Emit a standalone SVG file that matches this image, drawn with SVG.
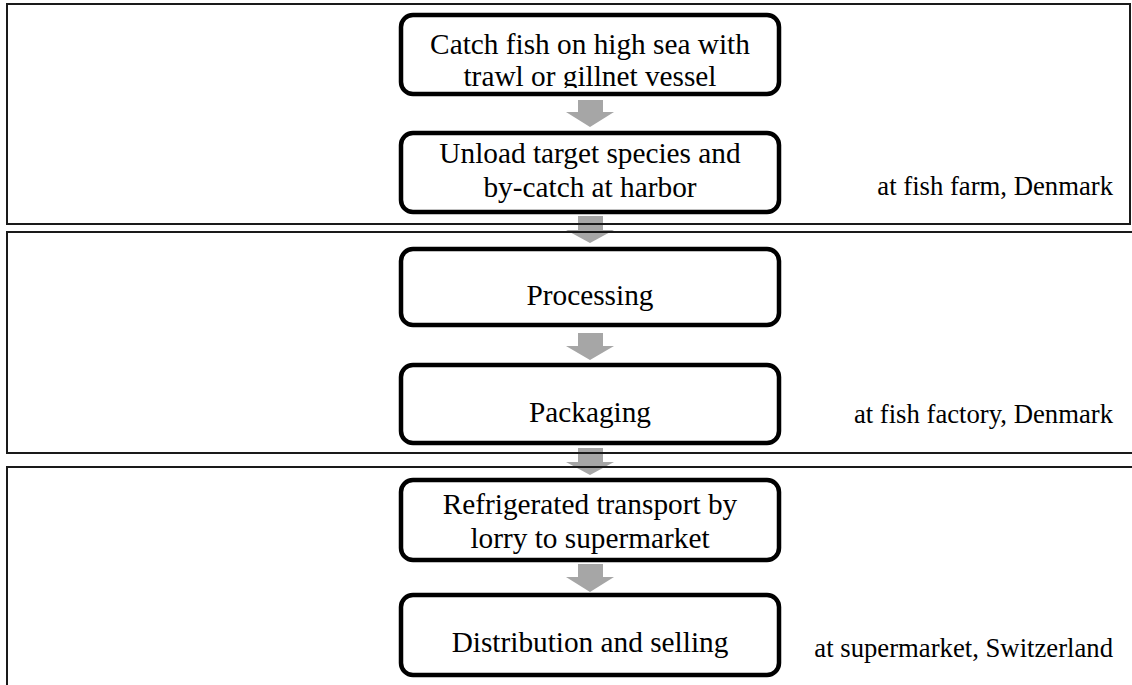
<svg xmlns="http://www.w3.org/2000/svg" width="1132" height="685" viewBox="0 0 1132 685">
<style>
.frame{fill:none;stroke:#1a1a1a;stroke-width:2}
.node{fill:#fff;stroke:#000;stroke-width:4.5}
.t{font-family:"Liberation Serif","Times New Roman",serif;font-size:29.3px;fill:#000;text-anchor:middle}
.lbl{font-family:"Liberation Serif","Times New Roman",serif;font-size:26.7px;fill:#000;text-anchor:end}
.arrow{fill:#a6a6a6}
</style>
<defs>
<clipPath id="clip1"><rect x="401" y="15" width="378" height="73"/></clipPath>
</defs>
<rect width="1132" height="685" fill="#fff"/>
<g id="nodes">
<g id="n1">
<rect class="node" x="401" y="15" width="378" height="79" rx="12"/>
<g clip-path="url(#clip1)">
<text class="t" x="590" y="54">Catch fish on high sea with</text>
<text class="t" x="590" y="86">trawl or gillnet vessel</text>
</g>
</g>
<g id="n2">
<rect class="node" x="401" y="133" width="378" height="79" rx="12"/>
<text class="t" x="590" y="163">Unload target species and</text>
<text class="t" x="590" y="197">by-catch at harbor</text>
</g>
<g id="n3">
<rect class="node" x="401" y="249" width="378" height="76" rx="12"/>
<text class="t" x="590" y="305">Processing</text>
</g>
<g id="n4">
<rect class="node" x="401" y="365" width="378" height="78" rx="12"/>
<text class="t" x="590" y="422">Packaging</text>
</g>
<g id="n5">
<rect class="node" x="401" y="480" width="378" height="80" rx="12"/>
<text class="t" x="590" y="514">Refrigerated transport by</text>
<text class="t" x="590" y="548">lorry to supermarket</text>
</g>
<g id="n6">
<rect class="node" x="401" y="595" width="378" height="80" rx="12"/>
<text class="t" x="590" y="652">Distribution and selling</text>
</g>
</g>
<g id="connectors">
<polygon class="arrow" points="578,100 603,100 603,112 614,112 590,127 566,112 578,112"/>
<polygon class="arrow" points="578,216 603,216 603,230 614,230 590,243 566,230 578,230"/>
<polygon class="arrow" points="578,333 603,333 603,346 614,346 590,360 566,346 578,346"/>
<polygon class="arrow" points="578,448 603,448 603,462 614,462 590,475 566,462 578,462"/>
<polygon class="arrow" points="578,564 603,564 603,577 614,577 590,592 566,577 578,577"/>
</g>
<g id="frames">
<rect class="frame" x="7" y="4" width="1123" height="220"/>
<rect class="frame" x="7" y="232" width="1130" height="221"/>
<rect class="frame" x="7" y="467" width="1130" height="230"/>
</g>
<g id="labels">
<text class="lbl" x="1113" y="195">at fish farm, Denmark</text>
<text class="lbl" x="1113" y="423">at fish factory, Denmark</text>
<text class="lbl" x="1113" y="657">at supermarket, Switzerland</text>
</g>
</svg>
